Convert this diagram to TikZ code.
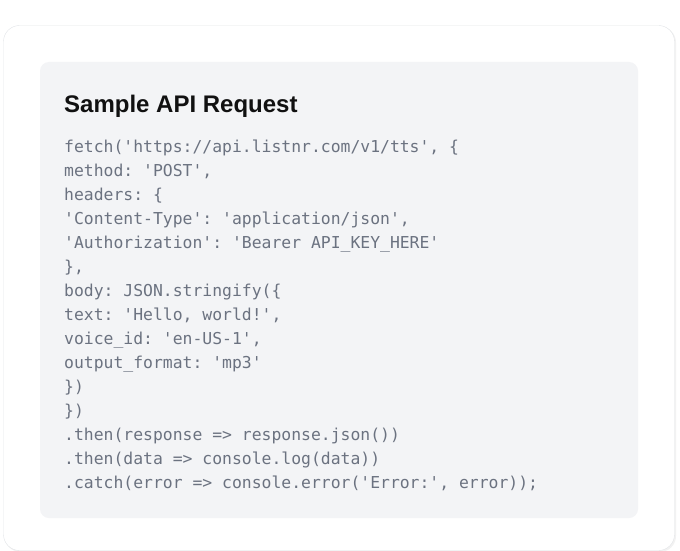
\documentclass[tikz,border=0pt]{standalone}
\usepackage{fontspec}
\setmainfont{Liberation Sans}
\newfontfamily\codefont{DejaVu Sans Mono}
\usepackage{tikz}
\definecolor{cardline}{HTML}{E3E5E8}
\definecolor{codebg}{HTML}{F3F4F6}
\definecolor{codegray}{HTML}{6B7280}
\definecolor{titleblack}{HTML}{111111}
\tikzset{codeline/.style={anchor=base west, inner sep=0pt, text=codegray,
    font=\codefont\fontsize{16.4}{20}\selectfont\frenchspacing}}

\begin{document}
\begin{tikzpicture}[x=1pt, y=-1pt]
      \useasboundingbox (0,0) rectangle (680,551);
      % card
      \fill[black!5, rounded corners=16pt] (4.5,26.5) rectangle (676,552);
      \draw[cardline, fill=white, rounded corners=16pt] (3.5,25.5) rectangle (674.5,550.5);
      \fill[codebg, rounded corners=9pt] (40,62) rectangle (638,518);
      \node (title) at (64,112) [anchor=base west, inner sep=0pt, text=titleblack,
            font=\bfseries\fontsize{24}{28}\selectfont] {Sample API Request};

      % code
      \node (fetch)   at (64,152) [codeline] {fetch('https://api.listnr.com/v1/tts', \{};
      \node (method)  at (64,176) [codeline] {method: 'POST',};
      \node (headers) at (64,200) [codeline] {headers: \{};
      \node (ctype)   at (64,224) [codeline] {'Content-Type': 'application/json',};
      \node (auth)    at (64,248) [codeline] {'Authorization': 'Bearer API\_KEY\_HERE'};
      \node (hclose)  at (64,272) [codeline] {\},};
      \node (body)    at (64,296) [codeline] {body: JSON.stringify(\{};
      \node (text)    at (64,320) [codeline] {text: 'Hello, world!',};
      \node (voice)   at (64,344) [codeline] {voice\_id: 'en-US-1',};
      \node (format)  at (64,368) [codeline] {output\_format: 'mp3'};
      \node (bclose)  at (64,392) [codeline] {\})};
      \node (fclose)  at (64,416) [codeline] {\})};
      \node (then)    at (64,440) [codeline] {.then(response => response.json())};
      \node (log)     at (64,464) [codeline] {.then(data => console.log(data))};
      \node (catch)   at (64,488) [codeline] {.catch(error => console.error('Error:', error));};
\end{tikzpicture}
\end{document}
